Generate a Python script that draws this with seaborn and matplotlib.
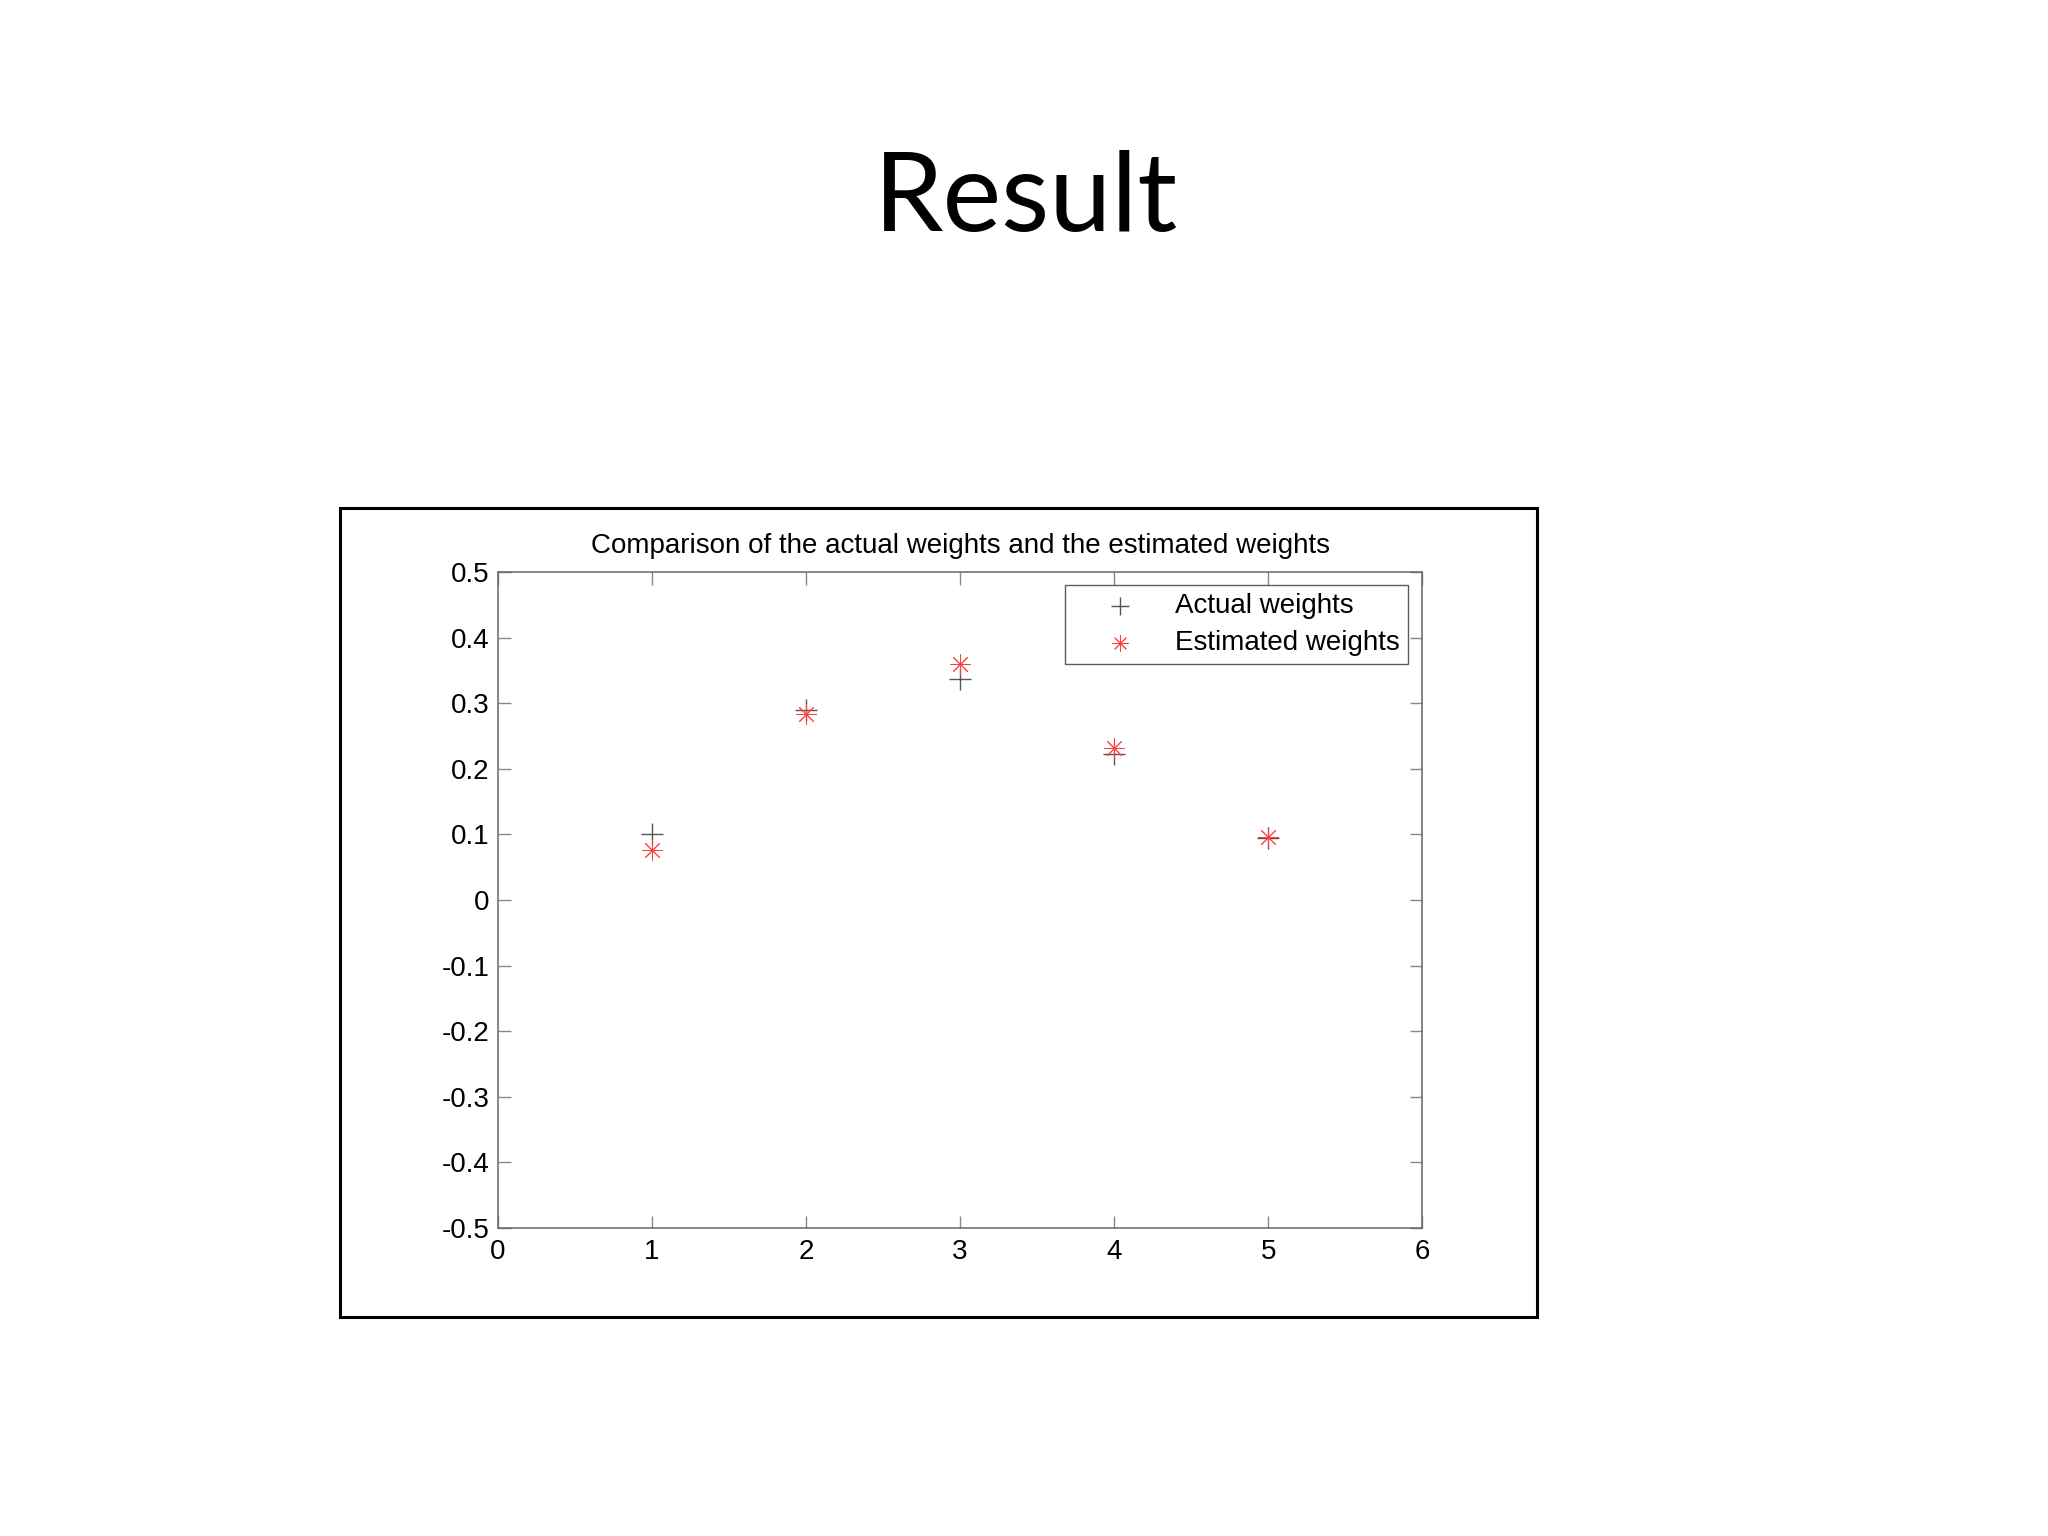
import pandas as pd
import seaborn as sns
import matplotlib.pyplot as plt
from matplotlib.patches import Rectangle

# data
idx = [1, 2, 3, 4, 5]
actual = [0.100, 0.290, 0.337, 0.222, 0.095]
estimated = [0.076, 0.284, 0.360, 0.232, 0.096]
xticks = [0, 1, 2, 3, 4, 5, 6]
yticks = [-0.5, -0.4, -0.3, -0.2, -0.1, 0, 0.1, 0.2, 0.3, 0.4, 0.5]
ytick_labels = ['-0.5', '-0.4', '-0.3', '-0.2', '-0.1', '0', '0.1', '0.2', '0.3', '0.4', '0.5']

sns.set_theme(style='white')
plt.rcParams['font.family'] = ['Liberation Sans', 'DejaVu Sans']
plt.rcParams['text.color'] = 'black'
plt.rcParams['xtick.color'] = 'black'
plt.rcParams['ytick.color'] = 'black'
plt.rcParams['axes.labelcolor'] = 'black'

df = pd.DataFrame({'x': idx, 'Actual weights': actual, 'Estimated weights': estimated})

fig = plt.figure(figsize=(20.48, 15.36), dpi=100)
fig.patch.set_facecolor('white')

# slide title
fig.text(0.501, 0.8496, 'Result', ha='center', va='baseline', fontsize=80,
         color='black', family=['Lato', 'DejaVu Sans'])

# outer frame around the figure image
fig.patches.append(Rectangle((0.166, 0.1426), 0.5845, 0.5267, transform=fig.transFigure,
                             fill=False, edgecolor='black', linewidth=2.2))

ax = fig.add_axes([0.2432, 0.2005, 0.4512, 0.4271])
sns.scatterplot(data=df, x='x', y='Actual weights', marker='+', s=260, color='#555555',
                linewidth=1.0, label='Actual weights', ax=ax)
sns.scatterplot(data=df, x='x', y='Estimated weights', marker=(8, 2, 0), s=200, color='#ff3b3b',
                linewidth=0.7, label='Estimated weights', ax=ax)

ax.set_xlim(0, 6)
ax.set_ylim(-0.5, 0.5)
ax.set_xticks(xticks)
ax.set_yticks(yticks)
ax.set_yticklabels(ytick_labels)
ax.set_xlabel('')
ax.set_ylabel('')
ax.set_title('Comparison of the actual weights and the estimated weights', fontsize=20,
             pad=14, color='black')

for sp in ax.spines.values():
    sp.set_color('#666666')
    sp.set_linewidth(1.1)
ax.tick_params(direction='in', length=9, width=1, color='#888888', labelsize=20,
               top=True, right=True, bottom=True, left=True, labelcolor='black')
ax.tick_params(axis='x', pad=8)
ax.tick_params(axis='y', pad=6)

leg = ax.legend(loc='upper right', fontsize=20, frameon=True, fancybox=False,
                edgecolor='#333333', borderpad=0.3, handlelength=3.3, handletextpad=0.35,
                labelspacing=0.38, markerscale=0.8, borderaxespad=0,
                bbox_to_anchor=(0.985, 0.98))
leg.get_frame().set_linewidth(1.0)
for t in leg.get_texts():
    t.set_color('black')

fig.savefig('out.png', dpi=100, facecolor='white')
